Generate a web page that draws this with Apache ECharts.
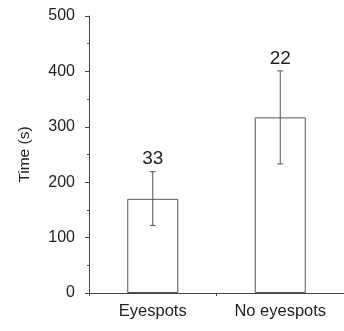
<!DOCTYPE html>
<html>
<head>
<meta charset="utf-8">
<script src="https://cdn.jsdelivr.net/npm/echarts@6/dist/echarts.min.js"></script>
<style>
  html, body { margin: 0; padding: 0; background: #fff; }
  #chart { width: 344px; height: 331px; }
</style>
</head>
<body>
<div id="chart"></div>
<script>
// Mean time per group with error bars and sample sizes
const categories = ['Eyespots', 'No eyespots'];
const meanTime = [170, 317];
const errLow = [122, 233];
const errHigh = [219, 401];
const sampleSize = ['33', '22'];
const yTicks = [0, 100, 200, 300, 400, 500];

const font = 'Liberation Sans, Arial, Helvetica, sans-serif';
const ink = '#222';
const lineColor = '#444';

const chart = echarts.init(document.getElementById('chart'), null, { renderer: 'canvas' });

chart.setOption({
  animation: false,
  backgroundColor: '#fff',
  grid: { left: 89, top: 16, height: 277, width: 263, containLabel: false },
  xAxis: {
    type: 'category',
    data: categories,
    boundaryGap: true,
    axisLine: { lineStyle: { color: lineColor, width: 1 } },
    axisTick: { show: true, length: 3, lineStyle: { color: lineColor } },
    axisLabel: { color: ink, fontFamily: font, fontSize: 16.5, margin: 10 }
  },
  yAxis: {
    type: 'value',
    min: yTicks[0],
    max: yTicks[yTicks.length - 1],
    interval: 100,
    name: 'Time (s)',
    nameLocation: 'middle',
    nameGap: 56,
    nameTextStyle: { color: ink, fontFamily: font, fontSize: 15.5 },
    axisLine: { show: true, lineStyle: { color: lineColor, width: 1 } },
    axisTick: { show: true, length: 4, lineStyle: { color: lineColor } },
    minorTick: { show: true, splitNumber: 2, length: 2, lineStyle: { color: lineColor } },
    splitLine: { show: false },
    axisLabel: { color: ink, fontFamily: font, fontSize: 16, margin: 14 }
  },
  series: [
    {
      type: 'bar',
      data: meanTime,
      barWidth: '40%',
      itemStyle: { color: '#fff', borderColor: '#555', borderWidth: 1 },
      silent: true
    },
    {
      type: 'custom',
      data: categories.map((c, i) => [i, errLow[i], errHigh[i]]),
      encode: { x: 0, y: [1, 2] },
      renderItem: function (params, api) {
        const i = api.value(0);
        const lo = api.coord([i, api.value(1)]);
        const hi = api.coord([i, api.value(2)]);
        const cap = 3;
        const style = { stroke: '#555', lineWidth: 1 };
        return {
          type: 'group',
          children: [
            { type: 'line', shape: { x1: lo[0], y1: lo[1], x2: hi[0], y2: hi[1] }, style: style },
            { type: 'line', shape: { x1: hi[0] - cap, y1: hi[1], x2: hi[0] + cap, y2: hi[1] }, style: style },
            { type: 'line', shape: { x1: lo[0] - cap, y1: lo[1], x2: lo[0] + cap, y2: lo[1] }, style: style },
            {
              type: 'text',
              x: hi[0],
              y: hi[1] - 3,
              style: {
                text: sampleSize[i],
                fill: ink,
                font: '19px ' + font,
                align: 'center',
                verticalAlign: 'bottom'
              }
            }
          ]
        };
      },
      silent: true,
      z: 3
    }
  ]
});
</script>
</body>
</html>
